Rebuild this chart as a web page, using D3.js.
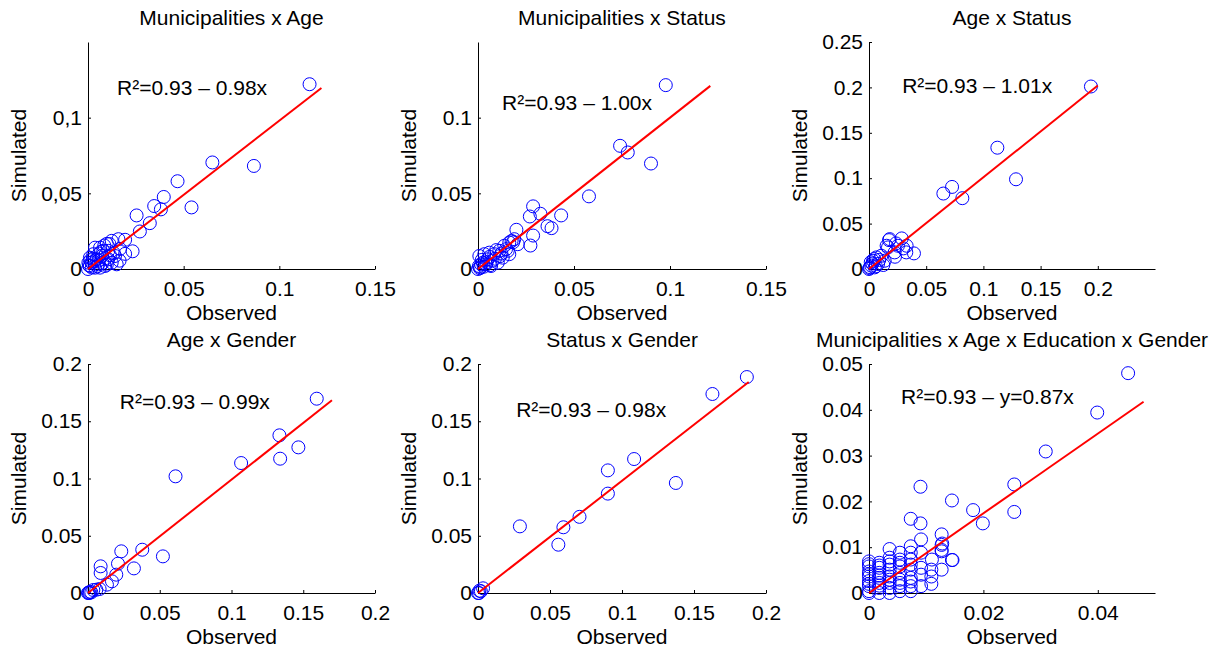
<!DOCTYPE html>
<html>
<head>
<meta charset="utf-8">
<script src="https://cdn.jsdelivr.net/npm/d3@7"></script>
<style>
  body { margin: 0; background: #fff; }
  svg text { font-family: "Liberation Sans", Arial, Helvetica, sans-serif; }
</style>
</head>
<body>
<div id="chart"></div>
<script>

// --- data ---
const titles = [
  'Municipalities x Age',
  'Municipalities x Status',
  'Age x Status',
  'Age x Gender',
  'Status x Gender',
  'Municipalities x Age x Education x Gender'
];

const p1Obs = [0.1158, 0.065, 0.0867, 0.0468, 0.0396, 0.0381, 0.0346, 0.0541, 0.0323, 0.0254, 0.0271, 0.0233, 0.0194,
  0.0159, 0.0124, 0.0098, 0.0063, 0.0037, 0.0167, 0.0194, 0.0141, 0.0106, 0.0089, 0.0054, 0.0019, 0.001, 0.0028,
  0.0072, 0.0124, 0.015, 0, 0.001, 0.0037, 0.0063, 0.0106, 0.0045, 0.008, 0.0002, 0.0085, 0.0112, 0.003, 0.0055,
  0.0075, 0.002, 0.0115, 0.0005, 0.0165, 0.0135, 0.0092, 0.0068, 0.0025, 0.0048, 0.0012, 0.0098, 0.0058];
const p1Sim = [0.1221, 0.0704, 0.0681, 0.058, 0.0476, 0.0394, 0.0416, 0.0407, 0.0303, 0.0354, 0.0248, 0.0117, 0.0193,
  0.0197, 0.0186, 0.0166, 0.0141, 0.0141, 0.0133, 0.01, 0.0086, 0.0064, 0.002, 0.0031, 0.0042, 0.0075, 0.0098,
  0.0086, 0.0042, 0.0031, 0, 0.002, 0.0009, 0.0009, 0.012, 0.0064, 0.012, 0.0042, 0.0155, 0.0165, 0.005, 0.0055,
  0.004, 0.001, 0.009, 0.0025, 0.0055, 0.0105, 0.0072, 0.0115, 0.0068, 0.0018, 0.0058, 0.0028, 0.0102];

const p2Obs = [0.0978, 0.074, 0.078, 0.0901, 0.0578, 0.0287, 0.0325, 0.027, 0.0433, 0.0362, 0.0383, 0.0287, 0.0273,
  0.02, 0.0183, 0.0189, 0.0163, 0.0207, 0.0137, 0.0111, 0.0085, 0.0059, 0.0033, 0.0007, 0.005, 0.0103, 0.0068,
  0.0042, 0.0016, 0, 0.001, 0.0129, 0.0163, 0.0146, 0.0175, 0.0095, 0.002, 0.0075, 0.003, 0.0005, 0.0115, 0.0155, 0.006,
  0.0088, 0.0122, 0.0045, 0.0025, 0.0062, 0.0012];
const p2Sim = [0.1215, 0.0814, 0.077, 0.0697, 0.048, 0.0414, 0.0365, 0.0347, 0.0354, 0.0283, 0.027, 0.0221, 0.0155,
  0.0259, 0.0177, 0.0197, 0.0175, 0.0164, 0.0153, 0.012, 0.0098, 0.0108, 0.0098, 0.0086, 0.0064, 0.0042, 0.002,
  0.0031, 0.0031, 0, 0.0005, 0.0075, 0.0098, 0.0131, 0.0185, 0.0125, 0.006, 0.0055, 0.0015, 0.002, 0.0085, 0.012, 0.008,
  0.0068, 0.0102, 0.0045, 0.0042, 0.0025, 0.0012];

const p3Obs = [0.194, 0.1122, 0.1285, 0.065, 0.0726, 0.0816, 0.0393, 0.0329, 0.0286, 0.0175, 0.0154, 0.0236, 0.03,
  0.0227, 0.0181, 0.0253, 0.0166, 0.0224, 0.0326, 0.0108, 0.0137, 0.0125, 0.0064, 0.0035, 0.002, 0.0079, 0, 0.001,
  0.005, 0.003, 0.0045, 0.0015, 0.009, 0.0005, 0.006];
const p3Sim = [0.201, 0.1336, 0.0988, 0.0831, 0.0904, 0.078, 0.0172, 0.0256, 0.0337, 0.0318, 0.0256, 0.0282, 0.0227,
  0.0135, 0.0329, 0.0256, 0.0238, 0.0183, 0.0183, 0.0146, 0.0091, 0.0044, 0.0128, 0.0091, 0.0037, 0.0055, 0, 0.002,
  0.0018, 0.006, 0.011, 0.0075, 0.01, 0.001, 0.003];

const p4Obs = [0.1594, 0.1334, 0.1339, 0.1466, 0.1067, 0.061, 0.0378, 0.0232, 0.0522, 0.0209, 0.032, 0.0088, 0.0088,
  0.0197, 0.0167, 0.0132, 0.0081, 0.0058, 0.0023, 0, 0.0014, 0.0037, 0.0005, 0.001];
const p4Sim = [0.1697, 0.1377, 0.1173, 0.1272, 0.1135, 0.1019, 0.0378, 0.0364, 0.032, 0.0256, 0.0215, 0.0233, 0.0175,
  0.016, 0.0102, 0.0073, 0.0035, 0.0029, 0.0006, 0, 0.0011, 0.0026, 0.0003, 0];

const p5Obs = [0.1867, 0.1628, 0.1084, 0.0902, 0.0902, 0.1374, 0.0705, 0.0593, 0.0558, 0.0291, 0.0035, 0.0007, 0, 0.002, 0.001];
const p5Sim = [0.1886, 0.1738, 0.117, 0.1071, 0.0868, 0.0961, 0.0665, 0.0574, 0.0422, 0.0582, 0.0041, 0, 0, 0.0015, 0.002];

const p6Obs = [0.0453, 0.0399, 0.0309, 0.0254, 0.0254, 0.0199, 0.0182, 0.0145, 0.009, 0.0073, 0.009, 0.0091, 0.0127,
  0.0128, 0.0127, 0.0145, 0.0127, 0.011, 0.0109, 0.0109, 0.0127, 0.0127, 0.0146, 0.0109,
  0.0073, 0.0073, 0.0073, 0.0073, 0.0073, 0.0073, 0.0073,
  0.0091, 0.0091, 0.0091, 0.0091,
  0.0054, 0.0054, 0.0054, 0.0054, 0.0054, 0.0054, 0.0054,
  0.0036, 0.0036, 0.0036, 0.0036, 0.0036, 0.0036, 0.0036, 0.0036,
  0.0018, 0.0018, 0.0018, 0.0018, 0.0018, 0.0018, 0.0018,
  0, 0, 0, 0, 0, 0, 0, 0,
  0.0018, 0.0018, 0.0018, 0, 0, 0, 0.0036, 0.0036, 0.0054, 0.0054, 0.0073, 0.0073];
const p6Sim = [0.048, 0.0394, 0.0309, 0.0237, 0.0177, 0.0152, 0.0181, 0.0202, 0.0232, 0.0162, 0.0152, 0.0117, 0.0128,
  0.0108, 0.0091, 0.0072, 0.0051, 0.0073, 0.0051, 0.002, 0.0105, 0.0094, 0.0072, 0.0036,
  0.0102, 0.0088, 0.0073, 0.0051, 0.0033, 0.0015, 0.0004,
  0.0055, 0.004, 0.0015, 0.0088,
  0.0088, 0.0073, 0.0058, 0.0044, 0.0029, 0.0015, 0.0004,
  0.0096, 0.0077, 0.0062, 0.0051, 0.0036, 0.0022, 0.0011, 0,
  0.0066, 0.0055, 0.0044, 0.0033, 0.0022, 0.0011, 0,
  0.0069, 0.0058, 0.0047, 0.0036, 0.0026, 0.0015, 0.0004, 0,
  0.006, 0.0038, 0.0016, 0.0063, 0.0041, 0.002, 0.0069, 0.0029, 0.0066, 0.0022, 0.0062, 0.0025];

const observed = [p1Obs, p2Obs, p3Obs, p4Obs, p5Obs, p6Obs];
const simulated = [p1Sim, p2Sim, p3Sim, p4Sim, p5Sim, p6Sim];

const slopes = [0.98, 1.00, 1.01, 0.99, 0.98, 0.87];
const fitEnds = [0.122, 0.121, 0.2, 0.17, 0.188, 0.048];

const xMax = [0.15, 0.15, 0.25, 0.2, 0.2, 0.05];
const yMax = [0.15, 0.15, 0.25, 0.2, 0.2, 0.05];
const xTickVals = [
  [0, 0.05, 0.1, 0.15], [0, 0.05, 0.1, 0.15], [0, 0.05, 0.1, 0.15, 0.2],
  [0, 0.05, 0.1, 0.15, 0.2], [0, 0.05, 0.1, 0.15, 0.2], [0, 0.02, 0.04]
];
const yTickVals = [
  [0, 0.05, 0.1], [0, 0.05, 0.1], [0, 0.05, 0.1, 0.15, 0.2, 0.25],
  [0, 0.05, 0.1, 0.15, 0.2], [0, 0.05, 0.1, 0.15, 0.2], [0, 0.01, 0.02, 0.03, 0.04, 0.05]
];
const yDecimal = [',', '.', '.', '.', '.', '.'];

const annotations = [
  'R\u00b2=0.93 \u2013 0.98x',
  'R\u00b2=0.93 \u2013 1.00x',
  'R\u00b2=0.93 \u2013 1.01x',
  'R\u00b2=0.93 \u2013 0.99x',
  'R\u00b2=0.93 \u2013 0.98x',
  'R\u00b2=0.93 \u2013 y=0.87x'
];
const annX = [0.0152, 0.0125, 0.029, 0.0222, 0.0265, 0.0056];
const annY = [0.1196, 0.1097, 0.2016, 0.1668, 0.16, 0.0428];

// --- layout ---
const w = 1225;
const h = 651;
const colLeft = [88, 478, 869];
const colRight = [375, 766, 1155];
const rowTop = [42, 364];
const rowBottom = [269, 593];
const fontSize = 21;

const svg = d3.select('#chart')
  .append('svg')
  .attr('width', w)
  .attr('height', h);

titles.forEach((title, i) => {
  const col = i % 3;
  const row = Math.floor(i / 3);
  const x0 = colLeft[col], x1 = colRight[col];
  const y0 = rowTop[row], y1 = rowBottom[row];

  const xScale = d3.scaleLinear([0, xMax[i]], [x0, x1]);
  const yScale = d3.scaleLinear([0, yMax[i]], [y1, y0]);

  const g = svg.append('g');

  const xAxis = d3.axisBottom(xScale)
    .tickValues(xTickVals[i])
    .tickFormat(d => String(d))
    .tickSizeInner(-3)
    .tickSizeOuter(0)
    .tickPadding(12);

  const yAxis = d3.axisLeft(yScale)
    .tickValues(yTickVals[i])
    .tickFormat(d => String(d).replace('.', yDecimal[i]))
    .tickSizeInner(-3)
    .tickSizeOuter(0)
    .tickPadding(6);

  g.append('g')
    .attr('transform', 'translate(0,' + y1 + ')')
    .call(xAxis)
    .call(a => a.selectAll('text').attr('font-size', fontSize).attr('fill', '#000')
      .attr('font-family', '"Liberation Sans", Arial, sans-serif'))
    .call(a => a.selectAll('line,path').attr('stroke', '#000'));

  g.append('g')
    .attr('transform', 'translate(' + x0 + ',0)')
    .call(yAxis)
    .call(a => a.selectAll('text').attr('font-size', fontSize).attr('fill', '#000')
      .attr('font-family', '"Liberation Sans", Arial, sans-serif'))
    .call(a => a.selectAll('line,path').attr('stroke', '#000'));

  // points
  const pts = observed[i].map((o, k) => ({ obs: o, sim: simulated[i][k] }));
  g.append('g')
    .selectAll('circle')
    .data(pts)
    .join('circle')
    .attr('cx', d => xScale(d.obs))
    .attr('cy', d => yScale(d.sim))
    .attr('r', 6.5)
    .attr('fill', 'none')
    .attr('stroke', '#0000ff')
    .attr('stroke-width', 1);

  // fit line
  const line = d3.line()
    .x(d => xScale(d[0]))
    .y(d => yScale(d[1]));

  g.append('path')
    .attr('d', line([[0, 0], [fitEnds[i], fitEnds[i] * slopes[i]]]))
    .attr('stroke', '#ff0000')
    .attr('stroke-width', 2)
    .attr('fill', 'none');

  // annotation
  g.append('text')
    .text(annotations[i])
    .attr('x', xScale(annX[i]))
    .attr('y', yScale(annY[i]))
    .attr('dy', '0.35em')
    .attr('font-size', fontSize)
    .attr('fill', '#000');

  // title
  g.append('text')
    .text(title)
    .attr('text-anchor', 'middle')
    .attr('x', (x0 + x1) / 2)
    .attr('y', y0 - 17)
    .attr('font-size', fontSize)
    .attr('fill', '#000');

  // axis labels
  g.append('text')
    .text('Observed')
    .attr('text-anchor', 'middle')
    .attr('x', (x0 + x1) / 2)
    .attr('y', y1 + 51)
    .attr('font-size', fontSize)
    .attr('fill', '#000');

  g.append('text')
    .text('Simulated')
    .attr('text-anchor', 'middle')
    .attr('transform', 'translate(' + (x0 - 62) + ',' + ((y0 + y1) / 2) + ') rotate(-90)')
    .attr('font-size', fontSize)
    .attr('fill', '#000');
});

</script>
</body>
</html>
